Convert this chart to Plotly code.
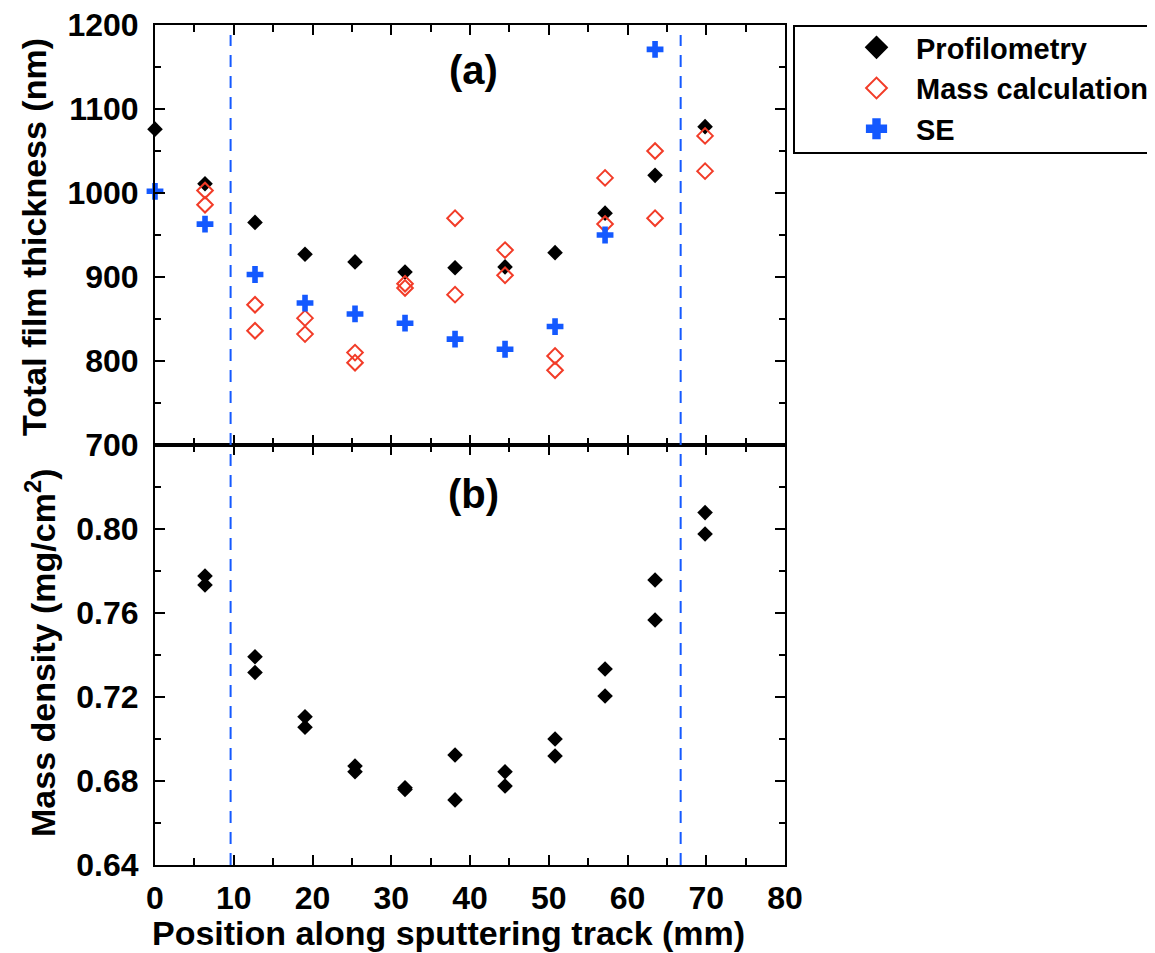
import plotly.graph_objects as go
from plotly.subplots import make_subplots

# ---------------- data ----------------
position_mm = [0, 6.35, 12.7, 19.05, 25.4, 31.75, 38.1, 44.45, 50.8, 57.15, 63.5, 69.85]

profilometry_nm = [1076, 1011, 965, 927, 918, 906, 911, 912, 929, 976, 1021, 1079]

mass_calc_x = [6.35, 6.35, 12.7, 12.7, 19.05, 19.05, 25.4, 25.4, 31.75, 31.75,
               38.1, 38.1, 44.45, 44.45, 50.8, 50.8, 57.15, 57.15, 63.5, 63.5,
               69.85, 69.85]
mass_calc_nm = [1003, 986, 867, 836, 851, 832, 810, 798, 892, 887,
                970, 879, 932, 902, 806, 789, 1018, 963, 1050, 970,
                1068, 1026]

se_x = [0, 6.35, 12.7, 19.05, 25.4, 31.75, 38.1, 44.45, 50.8, 57.15, 63.5]
se_nm = [1002, 963, 903, 869, 856, 845, 826, 814, 841, 950, 1171]

density_x = [6.35, 6.35, 12.7, 12.7, 19.05, 19.05, 25.4, 25.4, 31.75, 31.75,
             38.1, 38.1, 44.45, 44.45, 50.8, 50.8, 57.15, 57.15, 63.5, 63.5,
             69.85, 69.85]
density_mg_cm2 = [0.7776, 0.7733, 0.7392, 0.7317, 0.7106, 0.7056, 0.6871, 0.6844,
                  0.6768, 0.6760, 0.6924, 0.6710, 0.6844, 0.6776, 0.7000, 0.6919,
                  0.7333, 0.7205, 0.7757, 0.7567, 0.8078, 0.7976]

boundary_mm = [9.6, 66.75]

x_ticks = [0, 10, 20, 30, 40, 50, 60, 70, 80]
top_y_ticks = [700, 800, 900, 1000, 1100, 1200]
bottom_y_ticks = [0.64, 0.68, 0.72, 0.76, 0.80]

# ---------------- styles ----------------
BLACK = "#000000"
RED = "#f23c28"
BLUE = "#1459ff"
FONT = "Liberation Sans, Arial, Helvetica, sans-serif"

fig = make_subplots(rows=2, cols=1, shared_xaxes=True, vertical_spacing=0)

fig.add_trace(go.Scatter(x=position_mm, y=profilometry_nm, mode="markers",
                         name="Profilometry", showlegend=False, cliponaxis=False,
                         marker=dict(symbol="diamond", size=12, color=BLACK)),
              row=1, col=1)
fig.add_trace(go.Scatter(x=mass_calc_x, y=mass_calc_nm, mode="markers",
                         name="Mass calculation", showlegend=False, cliponaxis=False,
                         marker=dict(symbol="diamond-open", size=12, color=RED,
                                     line=dict(width=2, color=RED))),
              row=1, col=1)
fig.add_trace(go.Scatter(x=se_x, y=se_nm, mode="markers",
                         name="SE", showlegend=False, cliponaxis=False,
                         marker=dict(symbol="cross", size=14, color=BLUE)),
              row=1, col=1)
fig.add_trace(go.Scatter(x=density_x, y=density_mg_cm2, mode="markers",
                         name="Mass density", showlegend=False, cliponaxis=False,
                         marker=dict(symbol="diamond", size=12, color=BLACK)),
              row=2, col=1)

# legend entries (bigger symbols)
for nm, sym, col in [("Profilometry", "diamond", BLACK),
                     ("Mass calculation", "diamond-open", RED),
                     ("SE", "cross", BLUE)]:
    fig.add_trace(go.Scatter(x=[None], y=[None], mode="markers", name=nm,
                             marker=dict(symbol=sym, size=16, color=col,
                                         line=dict(width=2, color=col))),
                  row=1, col=1)

# dashed boundaries
for bx in boundary_mm:
    fig.add_shape(type="line", xref="x", yref="paper", x0=bx, x1=bx,
                  y0=0, y1=(865 - 35) / 840,
                  line=dict(color=BLUE, width=2, dash="12px,9px"))

# legend box
fig.add_shape(type="rect", xref="paper", yref="paper",
              x0=(794 - 155) / 630, x1=(1175 - 155) / 630,
              y0=(865 - 153) / 840, y1=(865 - 26) / 840,
              line=dict(color=BLACK, width=2), fillcolor="rgba(0,0,0,0)")

axis_common = dict(showline=True, linecolor=BLACK, linewidth=2, mirror="allticks",
                   ticks="inside", tickcolor=BLACK, tickwidth=2, ticklen=10,
                   showgrid=False, zeroline=False, automargin=False,
                   ticklabeloverflow="allow")

tickfont = dict(family=FONT, size=32, color=BLACK, weight="bold")

fig.update_xaxes(**axis_common, range=[0, 80], tickvals=x_ticks,
                 tickfont=tickfont, ticklabelstandoff=4,
                 minor=dict(ticks="inside", ticklen=7, tickwidth=2, tickcolor=BLACK, dtick=5,
                            tick0=0, showgrid=False))
fig.update_xaxes(showticklabels=False, row=1, col=1)

fig.update_yaxes(**axis_common, row=1, col=1, range=[700, 1200], tickvals=top_y_ticks,
                 tickfont=tickfont, ticklabelstandoff=8,
                 minor=dict(ticks="inside", ticklen=6, tickwidth=2, tickcolor=BLACK, dtick=50,
                            tick0=700, showgrid=False))
fig.update_yaxes(**axis_common, row=2, col=1, range=[0.64, 0.84], tickvals=bottom_y_ticks,
                 tickformat=".2f", tickfont=tickfont, ticklabelstandoff=8,
                 minor=dict(ticks="inside", ticklen=6, tickwidth=2, tickcolor=BLACK, dtick=0.02,
                            tick0=0.64, showgrid=False))

title_font = dict(family=FONT, size=34, color=BLACK, weight="bold")
fig.add_annotation(text="Total film thickness (nm)", textangle=-90, showarrow=False,
                   xref="paper", yref="paper", x=(34 - 155) / 630, y=(865 - 237) / 840,
                   xanchor="center", yanchor="middle", font=title_font)
fig.add_annotation(text="Mass density (mg/cm<sup>2</sup>)", textangle=-90, showarrow=False,
                   xref="paper", yref="paper", x=(40 - 155) / 630, y=(865 - 653) / 840,
                   xanchor="center", yanchor="middle", font=title_font)
fig.add_annotation(text="Position along sputtering track (mm)", showarrow=False,
                   xref="paper", yref="paper", x=(448 - 155) / 630, y=(865 - 933) / 840,
                   xanchor="center", yanchor="middle", font=dict(title_font, size=34))

fig.add_annotation(text="(a)", x=40.5, y=1146, xref="x", yref="y", showarrow=False,
                   font=dict(family=FONT, size=40, color=BLACK, weight="bold"))
fig.add_annotation(text="(b)", x=40.5, y=0.8167, xref="x2", yref="y2", showarrow=False,
                   font=dict(family=FONT, size=40, color=BLACK, weight="bold"))

fig.update_layout(
    width=1147, height=945,
    margin=dict(l=147, r=370, t=17, b=88, autoexpand=False),
    paper_bgcolor="white", plot_bgcolor="white",
    font=dict(family=FONT, color=BLACK),
    legend=dict(x=(837 - 155) / 630, y=(865 - 22) / 840, xanchor="left", yanchor="top",
                borderwidth=0, bgcolor="rgba(0,0,0,0)",
                font=dict(family=FONT, size=29, color=BLACK, weight="bold"),
                itemwidth=69, tracegroupgap=0),
)

fig.write_html("out.html")
